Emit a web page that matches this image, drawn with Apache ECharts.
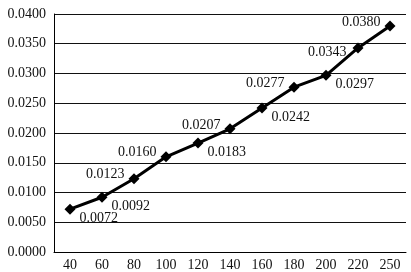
<!DOCTYPE html>
<html><head><meta charset="utf-8">
<script src="https://cdn.jsdelivr.net/npm/echarts@6/dist/echarts.min.js"></script>
<style>html,body{margin:0;padding:0;background:#fff}#c{width:411px;height:272px}</style>
</head><body><div id="c"></div>
<script>
var categories = ['40','60','80','100','120','140','160','180','200','220','250'];
var values = [0.0072,0.0092,0.0123,0.0160,0.0183,0.0207,0.0242,0.0277,0.0297,0.0343,0.0380];
var labelSides = ['br','br','tl','tl','br','tl','br','tl','br','l','tl'];

var font = '"Liberation Serif","Times New Roman",serif';
var data = values.map(function(v,i){
  var s = labelSides[i];
  var lab = s === 'br' ? {position:'right', offset:[0,9]}
          : s === 'l' ? {position:'left', offset:[-2,4]}
          : {position:'left', offset:[0,-4]};
  return {value:v, label:lab};
});
var chart = echarts.init(document.getElementById('c'));
chart.setOption({
  animation:false,
  grid:{left:54,right:5,top:14,bottom:20},
  xAxis:{type:'category',data:categories,boundaryGap:true,
    axisLine:{lineStyle:{color:'#000',width:1}},
    axisTick:{inside:true,length:5,lineStyle:{color:'#000'}},
    axisLabel:{color:'#111',fontFamily:font,fontSize:14,margin:6}},
  yAxis:{type:'value',min:0,max:0.04,interval:0.005,
    axisLine:{show:true,lineStyle:{color:'#000',width:1}},
    axisTick:{show:false},
    splitLine:{lineStyle:{color:'#111',width:1}},
    axisLabel:{color:'#111',fontFamily:font,fontSize:14,margin:8,
      formatter:function(v){return v.toFixed(4);}}},
  series:[{type:'line',data:data,symbol:'diamond',symbolSize:11,
    lineStyle:{color:'#000',width:3},itemStyle:{color:'#000'},
    label:{show:true,color:'#111',fontFamily:font,fontSize:14,distance:4,
      formatter:function(p){return p.value.toFixed(4);}}}]
});
</script></body></html>
